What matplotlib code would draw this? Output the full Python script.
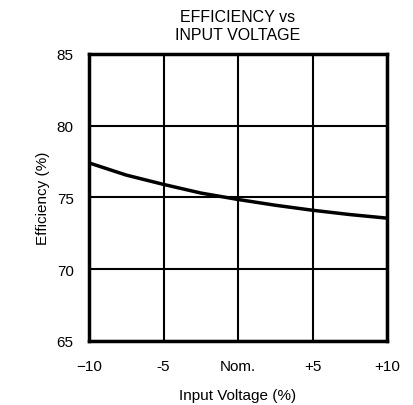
import matplotlib
matplotlib.use("Agg")
import matplotlib.pyplot as plt

plt.rcParams['font.family'] = ['Liberation Sans', 'DejaVu Sans']

x_vals = [-10, -7.5, -5, -2.5, 0, 2.5, 5, 7.5, 10]
efficiency = [77.4, 76.55, 75.9, 75.3, 74.85, 74.45, 74.1, 73.8, 73.55]
x_ticks = [-10, -5, 0, 5, 10]
x_ticklabels = ['\u221210', '-5', 'Nom.', '+5', '+10']
y_ticks = [65, 70, 75, 80, 85]

fig = plt.figure(figsize=(4.14, 4.06), dpi=100)
ax = fig.add_axes([0.215, 0.158, 0.72, 0.707])
ax.plot(x_vals, efficiency, color='black', lw=2.5, zorder=3)
ax.set_xlim(-10, 10)
ax.set_ylim(65, 85)
ax.set_xticks(x_ticks)
ax.set_xticklabels(x_ticklabels)
ax.set_yticks(y_ticks)
ax.grid(True, color='black', lw=1.5)
ax.tick_params(axis='x', length=0, labelsize=11, pad=13)
ax.tick_params(axis='y', length=0, labelsize=11, pad=11)
for s in ax.spines.values():
    s.set_linewidth(2.5)
ax.set_xlabel('Input Voltage (%)', fontsize=11, labelpad=11)
ax.set_ylabel('Efficiency (%)', fontsize=11, labelpad=5)
ax.set_title('EFFICIENCY vs\nINPUT VOLTAGE', fontsize=11.5, pad=11, linespacing=1.25)
fig.savefig('out.png', dpi=100)
